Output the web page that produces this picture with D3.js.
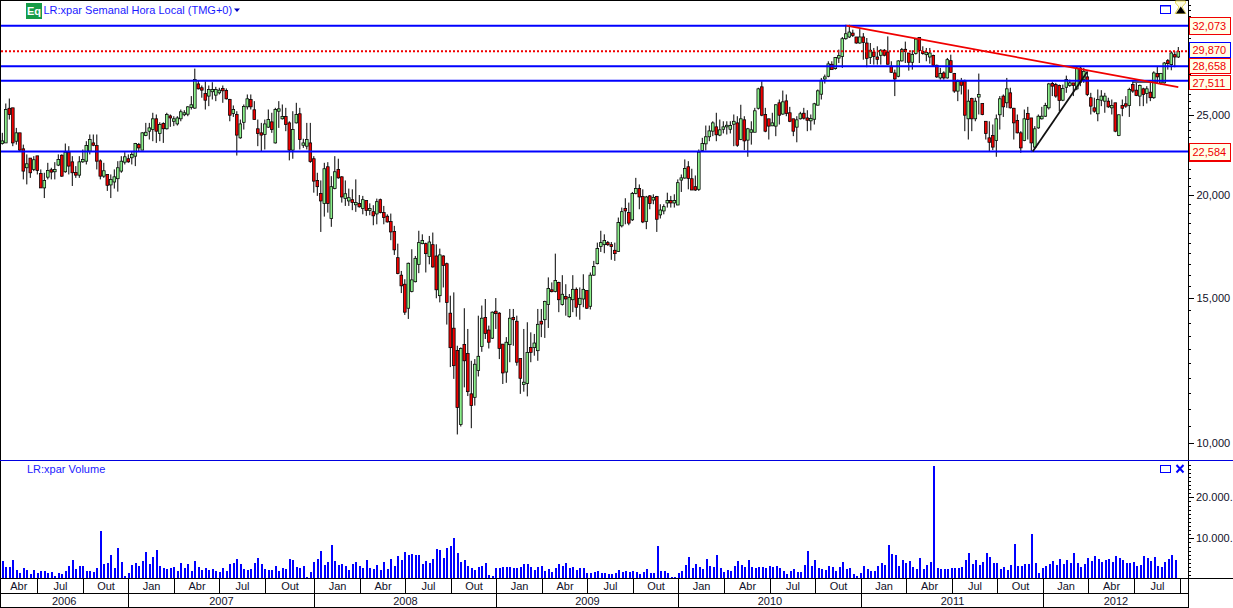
<!DOCTYPE html>
<html><head><meta charset="utf-8">
<style>html,body{margin:0;padding:0;background:#fff;overflow:hidden}svg{display:block}text{font-family:"Liberation Sans",Arial,sans-serif}</style>
<script src="https://cdnjs.cloudflare.com/ajax/libs/d3/7.8.5/d3.min.js"></script>
</head><body><svg id="c" width="1233" height="608"></svg>
<script>
const opens=[23090,23130,25480,25510,23240,23790,22750,21580,22170,21480,
22310,21240,20400,21020,21460,21340,21740,22350,21340,22540,
21940,21300,21140,21940,21980,22600,23130,22960,22000,21080,
21180,20570,20740,20930,21380,21920,22130,22190,22290,23020,
22670,23610,23900,24010,24740,23750,24420,24060,24940,24570,
24390,24740,25020,25060,25530,25490,27270,26980,26550,26360,
26680,26430,26600,26930,26780,26110,25110,25040,23460,24500,
25580,26110,25370,24060,23790,23680,24170,24530,23130,25270,
24740,24900,24460,22670,24460,25090,22980,22920,23130,22130,
20830,20090,19530,21640,18730,20360,21480,21040,19800,19670,
19740,19460,19530,19260,19690,19150,19090,18970,19740,19040,
18850,18570,18060,16790,15990,15590,14580,15280,15700,16480,
17460,17460,16840,17410,16870,15100,16870,16510,14380,13790,
12960,10540,13180,12850,11480,11370,12250,13100,14210,13720,
13410,14460,14380,13190,12200,13170,14210,14060,12670,11780,
11820,13070,13060,12950,14060,14120,14730,15350,15280,15670,
14730,15070,14240,14930,15370,14730,14960,15320,14660,15990,
16510,17320,17410,17510,17410,17140,17080,18350,19260,19040,
18660,20090,20360,19910,18570,19950,19720,19910,18920,19130,
19560,19690,19560,19450,20850,20970,21640,20930,20470,20320,
22650,23070,23530,23900,24190,23640,24030,24190,24030,24370,
24460,23350,24670,23310,23830,23830,25480,27050,25040,24740,
24260,24240,25870,25070,26010,25160,24740,24170,24740,25130,
24800,24600,24710,25700,26500,27650,27860,28810,28460,29310,
29450,30940,31090,31430,31090,30570,31090,30570,29370,29810,
29400,29540,29960,29810,28650,28120,27860,29080,30040,29730,
28970,29680,31050,29870,29590,29400,29530,28730,27730,28120,
27730,29100,28070,26730,27470,27470,24740,26180,24740,26290,
25820,24570,23460,23610,23280,25020,26360,25870,26600,25480,
24620,23790,23280,25110,24800,22860,24120,24740,24920,25510,
27300,27220,27150,26060,27020,27150,27350,26900,28510,27600,
27810,26240,25510,25090,26060,25990,25990,25510,25870,23610,
25680,25800,25680,27220,26800,26360,26900,26550,26650,26240,
28070,27350,27350,29100,28780,29590,29400];
const highs=[23790,25820,26180,25510,24120,23790,23020,22400,22170,22290,
22310,21480,21280,21880,21580,21920,22400,22400,23090,22920,
22290,21680,22290,22710,23240,23680,23680,23680,22090,21880,
21180,21180,21480,21980,22290,22540,22400,22600,23130,23130,
23830,24460,24460,25160,25040,24500,24500,25160,25040,24920,
24920,25390,25340,25630,26360,28460,27520,27150,27470,27150,
27400,27050,26980,27150,26930,26160,25680,25270,24690,25750,
26480,26480,25990,24690,24460,24690,25390,25160,25510,25990,
25750,25510,24570,25270,25870,25510,23400,24460,24460,22290,
21280,20830,21880,21920,21080,22290,22130,21080,20830,20360,
20320,20890,20000,19950,19690,19540,19440,19800,19800,19400,
18950,18990,18350,17460,16180,15810,16560,17190,16870,18100,
17920,17510,17840,18010,17430,17220,16900,16560,15100,15240,
13130,13070,14580,13760,12590,12650,14280,14690,14960,13890,
14450,15000,14420,13190,13450,14550,14550,14280,12670,13760,
14020,13630,13570,14550,14550,14890,15890,15670,16980,15700,
15990,15590,15170,15990,15450,15450,16030,15320,16110,16640,
17510,18100,17920,17590,17540,17510,18780,19310,19820,19580,
20170,20980,20600,20320,19950,20000,20040,19950,19490,19490,
20130,19950,20040,20890,21180,22090,21980,21520,21120,22710,
23460,24280,24280,24570,25160,24690,24570,24570,24570,25040,
24920,25730,24920,24120,24570,25510,26980,27470,25510,24740,
25160,25750,26110,26770,26480,25580,24740,24920,25230,25510,
25340,25040,25870,26850,27730,27990,29050,29050,29400,30010,
31090,32170,32170,31730,31090,31780,31430,31000,30570,30150,
30290,30060,30060,31140,29050,28380,29130,30150,30690,29730,
29960,31000,31050,30290,30150,30150,29590,28780,28520,28250,
29320,29590,28120,27600,27730,27600,26850,26240,26240,28070,
25820,24570,24570,24350,25040,26360,26480,27730,26980,25510,
25040,23900,25390,25580,24800,24240,25040,25580,25870,27350,
27430,27350,27220,27220,27910,27600,27350,28650,28650,28520,
28250,26600,26240,26850,26800,26600,26240,26110,25870,25040,
26110,26360,26980,27470,27350,27220,26980,27100,27350,28250,
28650,28120,28990,29230,29870,29870,30230];
const lows=[23020,23130,24690,22920,23020,22600,20890,20600,20980,21380,
21180,20400,19830,20890,20890,20890,21680,21040,21280,21180,
20510,20980,20980,21880,21780,22400,22920,21480,20890,20980,
20230,19830,20360,20190,21280,21780,21880,21780,21680,22600,
22670,23570,23350,23240,23130,23240,23130,24010,24190,24240,
24280,24570,24920,24920,25390,25440,26850,26240,25390,25630,
26110,25990,26480,25870,26110,24570,24870,22330,23400,24010,
25390,25390,24690,22920,22600,22710,24120,23790,23090,24120,
24690,23900,22030,22130,24420,22710,22810,22710,21880,20130,
19950,18040,18830,19040,18300,20320,20930,19580,19400,19400,
19170,19080,19310,18950,18870,18900,18380,18430,19000,18430,
18520,17630,16920,16030,15210,14310,14150,15240,15670,16080,
17430,16110,16480,16330,14990,14820,15450,13930,12370,11970,
10250,10480,11690,11410,10430,11110,12050,12910,13380,13030,
13380,13760,12650,11800,11840,12540,13130,12420,11480,11550,
11400,12540,12770,12590,13450,13420,13800,15240,15240,14420,
14690,14280,14200,14420,14240,14120,14620,14550,14530,15960,
16480,17060,17000,17350,16690,16640,17060,18270,18430,18380,
18600,20040,19220,18490,18180,19220,19490,18040,18730,18950,
19310,19310,19310,19440,20170,20930,20320,20280,20230,20230,
22600,22650,23240,23570,23240,23570,23750,23680,23750,22920,
22880,23310,22670,22250,23020,23830,25390,24920,23830,23350,
24240,23570,24350,25020,24920,24510,23570,23170,24690,24690,
23900,23950,24350,25680,26110,27300,27780,28380,28380,28910,
28520,30850,31000,31090,30510,30510,29180,28570,28830,28780,
28780,28780,29450,28780,28120,26360,27780,29030,28910,28300,
28380,29600,28910,29590,29050,28860,28650,27730,27600,27600,
27680,28120,26600,25990,26480,23900,23350,23900,24570,25040,
24990,23350,22600,22670,22250,24010,24870,25510,25460,23350,
23750,22500,23240,23350,22540,22770,24060,24690,24870,25390,
26360,26240,25270,25990,26600,27050,26360,26800,27100,27350,
26360,25040,25160,24570,25630,25160,25510,25040,23830,23570,
24920,25510,24870,26600,26360,25630,25630,25820,25990,26160,
27350,27220,27300,28380,28330,28570,29320];
const closes=[23260,25390,25040,23130,23790,22670,21380,21820,21280,22070,
21420,20400,20830,21420,21320,21480,22090,21080,22540,21680,
21280,21140,21940,22090,22960,23350,22980,21980,21080,21400,
20550,20890,21040,21580,21980,22250,21940,22400,23090,22810,
23790,23830,24120,24740,23900,24350,24060,25040,24800,24740,
24800,25230,25160,25580,25730,27600,26900,26800,26060,26850,
26850,26850,26800,26750,26160,24990,25390,23640,24390,25610,
26160,25580,24690,23750,23640,24390,24690,24010,25390,25440,
24900,24350,22670,24010,25040,23350,23130,23350,21960,20790,
20470,19670,21520,19530,20470,21340,20980,19890,20070,19850,
19580,19580,19350,19740,19150,19260,18870,19630,19040,18780,
18550,18040,17160,16060,15520,14420,16530,15780,16760,17510,
17610,16980,17540,16360,15350,16920,16430,14820,13060,12420,
11050,13030,12590,11550,11110,12470,12750,14180,13590,13260,
14420,14360,13030,12170,13260,14180,14120,12540,11990,11860,
12890,12890,13230,13940,13950,14860,15410,15270,15750,14930,
15160,14960,15030,15370,14620,14990,15370,14580,15990,16380,
17220,17510,17610,17410,17320,16980,18520,19090,19130,18490,
20090,20360,19890,18550,19890,19530,19870,18690,19180,19360,
19690,19560,19690,20700,20980,21540,20950,20280,20280,22540,
23090,23530,23920,24460,23660,23990,24190,24300,24280,24570,
22980,24740,23260,24060,23990,25300,26900,24990,23900,24240,
24460,25730,24990,25940,25110,24570,23900,24670,25090,24780,
24640,24760,25800,26750,27550,27810,28840,28380,29350,29510,
30940,31370,31520,31220,30570,31090,30620,29290,29960,29450,
29210,29960,29540,28810,28170,27650,29080,30010,29840,28970,
29620,30910,29950,29680,29790,29730,28730,27810,28070,27730,
29180,28170,26730,27470,27170,24990,25990,24740,25990,26480,
25040,23750,23170,22860,24740,26160,25580,26900,25510,24460,
23790,22810,24740,24690,23130,24060,24920,24920,25680,27270,
27100,26360,26040,26930,27600,27350,27150,28510,27400,28250,
26480,25630,25270,26110,26360,26360,25580,25680,23900,25020,
25480,25630,26850,26730,26410,27150,26480,26900,26240,28120,
27810,28070,28910,28860,29730,29400,29870];
const volumes=[4470,3010,3010,4720,2280,1540,2760,2280,1300,2280,
1540,2030,2030,1540,1790,810,1540,1300,2030,3250,
4720,2520,3250,3250,2030,2030,1790,2760,11790,3740,
3980,5930,2760,7640,4230,810,1540,3500,3980,3250,
4470,6670,3740,5450,7150,3250,2760,2520,2760,3010,
2030,3980,2760,3740,2030,4470,3010,2280,2760,2280,
2520,2030,1790,2760,2030,3740,3980,4960,3740,2520,
2280,2520,3980,5200,3740,2520,2280,2280,3250,2030,
2760,2520,4960,4720,3010,2760,3250,570,1790,4230,
4960,6910,3500,4230,8370,4470,3500,3740,3250,2280,
3740,4230,3250,2760,4720,2760,2520,3500,2280,4230,
2520,4960,3250,5690,4720,6670,5930,6180,5930,5930,
3740,4470,3980,4960,7400,7150,5200,7640,8130,10080,
6420,4230,4720,3250,2760,2280,3010,3250,3980,1060,
810,2760,2760,3010,3010,3010,2760,2760,3010,3740,
3740,3010,2280,3010,3250,2030,2520,1790,2760,3740,
3250,3980,2760,3010,2280,2760,2760,1540,1540,1790,
2030,1540,1540,1300,1300,1540,2280,1790,2030,1790,
2030,1790,1300,1790,2520,1540,1540,8130,2030,2030,
1540,570,570,1540,2030,3500,5450,2760,3740,3010,
2520,4960,3250,3010,5930,2760,1790,2280,2030,3250,
4470,3500,3010,4720,3010,2760,3010,3010,2760,3250,
3010,3250,2760,2030,1300,2030,2520,1790,1790,3500,
6910,3250,
4720,2760,2520,2280,3250,3010,2030,3010,4230,2520,
2760,1300,810,1540,3250,2520,2030,2030,3250,3980,
3500,8370,6180,5930,3250,4720,3980,4470,3010,2520,
5200,2520,3500,4230,27640,2760,2520,2520,2520,2760,
2760,2760,3010,4720,6420,3740,4720,3500,4230,6420,
5450,3980,3980,2520,3010,2280,3500,8620,3250,3250,
3740,3740,11060,3980,1540,2760,3250,3740,4470,3500,
4960,3740,4720,3980,6420,3980,3010,3740,5200,4470,
5690,4960,4230,4720,4960,4230,5690,5200,4720,3980,
3980,4230,3250,3500,5690,5200,4470,5450,3250,3010,
4230,4960,5930,4720];

const monthNames=["Abr","Jul","Out","Jan","Abr","Jul","Out","Jan","Abr","Jul","Out","Jan","Abr","Jul","Out","Jan","Abr","Jul","Out","Jan","Abr","Jul","Out","Jan","Abr","Jul"];
const monthEndWeeks=[10,23,36,49,62,75,89,102,115,128,141,154,167,180,193,206,219,232,245,258,271,284,297,310,323,336];
const yearNames=["2006","2007","2008","2009","2010","2011","2012"];
const yearEndWeeks=[36,89,141,193,245,297];
const priceLabels=[10000,15000,20000,25000];
const blueLevels=[32073,28658,27511,22584];
const lastPrice=29870;
const levelBoxes=["32,073","29,870","28,658","27,511","22,584"];
const levelBoxValues=[32073,29870,28658,27511,22584];
const volumeLabels=[10000,20000];
const volumeLabelText=["10.000.","20.000."];
const redTrendWeeks=[241.2,336],redTrendValues=[32100,27020];
const blackTrendWeeks=[294.4,310],blackTrendValues=[22584,28220];
const shortLineWeeks=[323,330],shortLineValues=[27400,27400];

const W=1233,H=608,axisX=1188.5,BLUE="#0000ff";
const svg=d3.select("#c");
const x=d3.scaleLinear().domain([0,336]).range([2.3,1178.3]);
const xVol=d3.scaleLinear().domain([0,335]).range([2,1175.5]);
const xAxisBreak=d3.scaleLinear().domain([10,336]).range([37.4,1179.7]);
const y=d3.scaleLog().domain([10000,20000]).range([443.3,195]);
const yv=d3.scaleLinear().domain([0,20000]).range([579.3,497.3]);
const idx=d3.range(opens.length);

// volume
svg.append("g").selectAll("rect").data(volumes).join("rect")
 .attr("x",(d,i)=>Math.floor(xVol(i))).attr("width",2)
 .attr("y",d=>Math.round(yv(d))).attr("height",d=>578-Math.round(yv(d)))
 .attr("fill",BLUE).attr("shape-rendering","crispEdges");

// candles
const cg=svg.append("g");
cg.selectAll("line").data(idx).join("line")
 .attr("x1",i=>x(i)).attr("x2",i=>x(i))
 .attr("y1",i=>y(highs[i])).attr("y2",i=>y(lows[i]))
 .attr("stroke","#000").attr("stroke-width",1);
cg.selectAll("rect").data(idx).join("rect")
 .attr("x",i=>x(i)-1.35).attr("width",2.7)
 .attr("y",i=>y(Math.max(opens[i],closes[i])))
 .attr("height",i=>Math.max(1.2,y(Math.min(opens[i],closes[i]))-y(Math.max(opens[i],closes[i]))))
 .attr("fill",i=>closes[i]>=opens[i]?"#8cf08c":"#f00000")
 .attr("stroke","#000").attr("stroke-width",.75);

// levels
const lg=svg.append("g");
lg.selectAll("line").data(blueLevels).join("line")
 .attr("x1",1).attr("x2",axisX).attr("y1",d=>y(d)).attr("y2",d=>y(d))
 .attr("stroke",BLUE).attr("stroke-width",2);
lg.append("line").attr("x1",1).attr("x2",axisX).attr("y1",y(lastPrice)).attr("y2",y(lastPrice))
 .attr("stroke","#f00000").attr("stroke-width",2).attr("stroke-dasharray","2 2");
const tl=d3.line().x(d=>x(d[0])).y(d=>y(d[1]));
const pairs=(a,b)=>a.map((v,i)=>[v,b[i]]);
svg.append("path").attr("d",tl(pairs(blackTrendWeeks,blackTrendValues))).attr("stroke","#111").attr("stroke-width",1.8).attr("fill","none");
svg.append("path").attr("d",tl(pairs(shortLineWeeks,shortLineValues))).attr("stroke","#222").attr("stroke-width",1).attr("fill","none");
svg.append("path").attr("d",tl(pairs(redTrendWeeks,redTrendValues))).attr("stroke","#f00000").attr("stroke-width",1.8).attr("fill","none");

// frame
const frame=svg.append("g").attr("shape-rendering","crispEdges");
const fl=(a,b,c,d,col)=>frame.append("line").attr("x1",a).attr("y1",b).attr("x2",c).attr("y2",d).attr("stroke",col||"#000");
fl(0.5,0,0.5,H);
fl(0,0.5,axisX,0.5);
fl(axisX,0,axisX,H);
fl(0,460.5,W,460.5,"#0000e0");
fl(0,578.5,W,578.5);
fl(0,593.5,axisX,593.5);
fl(0,607.5,axisX,607.5);

// axis ticks
d3.range(9500,34500,500).forEach(v=>{const major=priceLabels.includes(v);const ty=Math.round(y(v))+.5;if(ty>460)return;fl(axisX,ty,axisX+(major?5:2.5),ty);});
d3.range(1000,29000,1000).forEach(v=>{const major=volumeLabels.includes(v);const ty=Math.round(yv(v))+.5;fl(axisX,ty,axisX+(major?5:2.5),ty);});

const lblFont=11;
svg.append("g").selectAll("text").data(priceLabels).join("text")
 .attr("x",1196.5).attr("y",d=>y(d)+4).attr("font-size",lblFont).attr("fill","#101028")
 .text(d=>d3.format(",")(d));
svg.append("g").selectAll("text").data(volumeLabels).join("text")
 .attr("x",1196).attr("y",d=>yv(d)+4).attr("font-size",lblFont).attr("fill","#101028")
 .text((d,i)=>volumeLabelText[i]);

// boxes on the price axis: offsets of box edges from the level, in the drawing code only
const boxEdges=[[-8.5,8.5],[-9.5,5.5],[-8.5,6.5],[-6,8],[-8.5,8.5]];
const box=svg.append("g");
levelBoxValues.forEach((v,i)=>{
 const cy=y(v),top=Math.round(cy+boxEdges[i][0])+.5,bot=Math.round(cy+boxEdges[i][1])+.5;
 box.append("rect").attr("x",1189.5).attr("y",top).attr("width",40.5).attr("height",bot-top)
  .attr("fill","#ffffe8").attr("stroke",v===lastPrice?BLUE:"#f00000").attr("shape-rendering","crispEdges");
 if(v===22584) box.append("line").attr("x1",1189).attr("x2",1230.5).attr("y1",bot+.5).attr("y2",bot+.5).attr("stroke","#f00000").attr("shape-rendering","crispEdges");
 box.append("text").attr("x",1192.5).attr("y",(top+bot)/2+4).attr("font-size",lblFont).attr("fill","#f00000").text(levelBoxes[i]);
});

// month and year rows
const mb=monthEndWeeks.map(w=>Math.floor(xAxisBreak(w)+.3)+.5);
mb.forEach(p=>fl(p,578,p,593));
svg.append("g").selectAll("text").data(monthNames).join("text")
 .attr("x",(d,i)=>((i?mb[i-1]:0)+mb[i])/2).attr("y",590).attr("text-anchor","middle").attr("font-size",lblFont).attr("fill","#101028").text(d=>d);
const yb=yearEndWeeks.map(w=>Math.floor(xAxisBreak(w)+.3)+.5);
yb.forEach(p=>fl(p,593,p,607));
svg.append("g").selectAll("text").data(yearNames).join("text")
 .attr("x",(d,i)=>((i?yb[i-1]:0)+(i<yb.length?yb[i]:axisX))/2).attr("y",604.5).attr("text-anchor","middle").attr("font-size",lblFont).attr("fill","#101028").text(d=>d);

// headers
svg.append("rect").attr("x",26).attr("y",3).attr("width",16).attr("height",16).attr("fill","#169c48");
svg.append("text").attr("x",34).attr("y",15).attr("text-anchor","middle").attr("font-size",11).attr("font-weight","bold").attr("fill","#fff").text("Eq");
svg.append("text").attr("x",43.5).attr("y",14).attr("font-size",11).attr("fill","#1a1aff").text("LR:xpar Semanal Hora Local (TMG+0)");
svg.append("path").attr("d","M234 8.5h6l-3 3.5z").attr("fill","#0000c0");
svg.append("text").attr("x",27).attr("y",473).attr("font-size",11).attr("fill","#1a1aff").text("LR:xpar Volume");

// window icons
[[1160.5,5],[1160.5,464.5]].forEach(p=>{
 svg.append("rect").attr("x",p[0]).attr("y",p[1]+.5).attr("width",10).attr("height",7.5).attr("fill","none").attr("stroke",BLUE).attr("shape-rendering","crispEdges");
 svg.append("line").attr("x1",p[0]).attr("x2",p[0]+10).attr("y1",p[1]+1).attr("y2",p[1]+1).attr("stroke",BLUE);
});
svg.append("path").attr("d","M1176.5 465l7 7.5M1183.5 465l-7 7.5").attr("stroke",BLUE).attr("stroke-width",2);
// hourglass
svg.append("path").attr("d","M1175.5 1h10v2l-3.5 4 4 6.5h-11l4-6.5-3.5-4z").attr("fill","#fffde0").attr("stroke","#e6d95a").attr("stroke-width",1);
svg.append("path").attr("d","M1176 13.5h9.5l-4.75-7z").attr("fill","#000");
</script></body></html>
